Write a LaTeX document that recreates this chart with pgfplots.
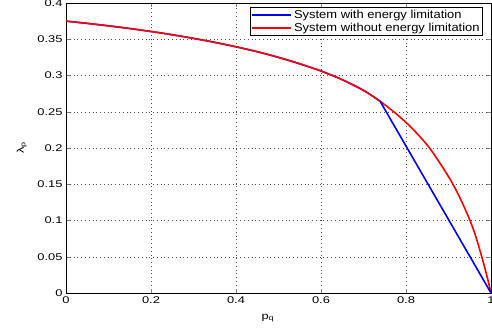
\documentclass[border=0pt]{standalone}
\usepackage{fontspec}
\setmainfont{Liberation Sans}
\newfontfamily\tickfont{Liberation Sans}[FakeStretch=1.32]
\newfontfamily\legfont{Liberation Sans}[FakeStretch=1.12]
\usepackage{pgfplots}
\pgfplotsset{compat=1.18}
\begin{document}
\begin{tikzpicture}
\begin{axis}[
  scale only axis,
  width=425bp, height=290bp,
  xmin=0, xmax=1, ymin=0, ymax=0.4,
  xtick={0,0.2,0.4,0.6,0.8,1},
  ytick={0,0.05,0.1,0.15,0.2,0.25,0.3,0.35,0.4},
  /pgf/number format/assume math mode=true,
  yticklabel style={/pgf/number format/fixed,/pgf/number format/precision=2},
  xticklabel style={/pgf/number format/fixed},
  scaled y ticks=false,
  tick label style={font=\tickfont\fontsize{9.8}{11}\selectfont},
  label style={font=\tickfont\fontsize{9.8}{11}\selectfont},
  tick pos=both, tick align=inside,
  major tick length=4bp,
  axis line style={black, line width=0.9pt},
  grid=major,
  major grid style={black!70, line width=0.5pt, dash pattern=on 0.6pt off 3.2pt},
  xlabel={p\textsubscript{q}},
  ylabel={λ\textsubscript{p}},
  xlabel style={at={(axis description cs:0.475,-0.086)}, anchor=center},
  ylabel style={at={(axis description cs:-0.104,0.5)}, anchor=center},
  legend style={at={(axis description cs:0.981,0.986)}, anchor=north east,
    font=\legfont\fontsize{11.6}{13}\selectfont, draw=black, line width=0.6pt,
    inner sep=1pt, row sep=-1.5pt, cells={anchor=west}},
  legend image code/.code={\draw[#1, line width=2pt] (0bp,0bp) -- (39bp,0bp);},
]
\addplot[blue, line width=1.6pt, smooth, tension=0.5] coordinates {
(0,0.375)(0.05,0.3719)(0.1,0.3685)(0.15,0.3648)(0.2,0.3607)(0.25,0.3562)(0.3,0.3512)
(0.35,0.3457)(0.4,0.3396)(0.45,0.3328)(0.5,0.325)(0.55,0.3161)(0.6,0.3062)
(0.65,0.2942)(0.7,0.2795)(0.739,0.2645)};
\addlegendentry{System with energy limitation}
\addplot[red, line width=1.6pt, smooth, tension=0.5] coordinates {
(0,0.375)(0.05,0.3719)(0.1,0.3685)(0.15,0.3648)(0.2,0.3607)(0.25,0.3562)(0.3,0.3512)
(0.35,0.3457)(0.4,0.3396)(0.45,0.3328)(0.5,0.325)(0.55,0.3161)(0.6,0.3062)
(0.65,0.2942)(0.7,0.2795)(0.739,0.2645)(0.77,0.2505)(0.8,0.2353)(0.83,0.2175)
(0.856,0.1995)(0.88,0.179)(0.9,0.1605)(0.911,0.1495)(0.93,0.1275)(0.951,0.0995)
(0.965,0.0765)(0.978,0.0505)(0.99,0.0245)(1,0)};
\addlegendentry{System without energy limitation}
\addplot[blue, line width=1.6pt, forget plot] coordinates {(0.739,0.2645)(1,0)};
\end{axis}
\pgfresetboundingbox
\path[use as bounding box] (-66bp,-41bp) rectangle (426bp,293bp);
\end{tikzpicture}
\end{document}
